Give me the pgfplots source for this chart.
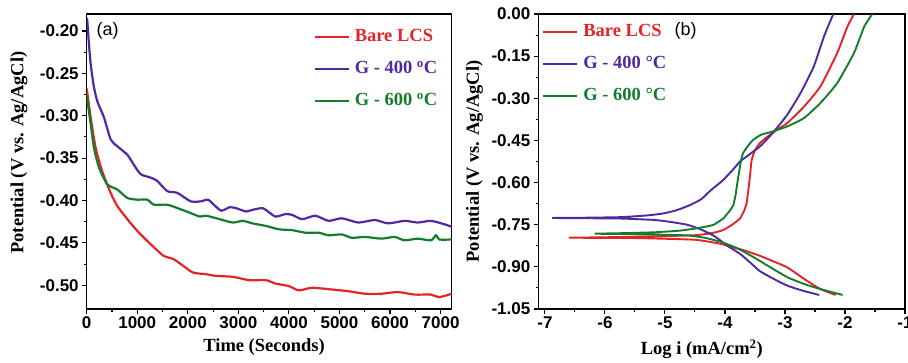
\documentclass[border=0pt]{standalone}
\usepackage{fontspec}
\setmainfont{Liberation Serif}
\setsansfont{Liberation Sans}
\usepackage{pgfplots}
\pgfplotsset{compat=1.18}
\definecolor{cred}{RGB}{230,35,40}
\definecolor{cblue}{RGB}{80,40,160}
\definecolor{cgreen}{RGB}{20,125,45}

\pgfplotstableread{
t E
0 -0.268
12 -0.273
79 -0.302
177 -0.338
309 -0.366
474 -0.391
600 -0.406
750 -0.418
900 -0.429
1050 -0.439
1255 -0.451
1516 -0.465
1712 -0.469
1908 -0.477
2105 -0.485
2366 -0.487
2562 -0.489
2889 -0.490
3216 -0.494
3542 -0.494
3739 -0.498
4000 -0.501
4196 -0.506
4458 -0.503
4850 -0.505
5176 -0.507
5503 -0.510
5830 -0.510
6157 -0.508
6484 -0.511
6810 -0.511
6974 -0.514
7220 -0.510
}\ocpred

\pgfplotstableread{
t E
0 -0.185
12 -0.188
40 -0.212
79 -0.239
140 -0.265
210 -0.283
342 -0.302
474 -0.328
605 -0.336
803 -0.346
935 -0.358
1068 -0.369
1266 -0.373
1397 -0.377
1594 -0.389
1792 -0.391
2056 -0.401
2254 -0.401
2400 -0.399
2497 -0.404
2660 -0.412
2824 -0.408
2954 -0.409
3150 -0.413
3281 -0.411
3477 -0.409
3608 -0.414
3739 -0.419
3935 -0.416
4065 -0.417
4261 -0.422
4523 -0.418
4784 -0.424
5046 -0.421
5373 -0.426
5699 -0.423
5961 -0.427
6288 -0.424
6549 -0.426
6810 -0.424
7072 -0.428
7220 -0.431
}\ocpblue

\pgfplotstableread{
t E
0 -0.276
12 -0.281
79 -0.310
144 -0.338
243 -0.361
408 -0.381
605 -0.387
803 -0.397
1000 -0.399
1198 -0.399
1331 -0.405
1594 -0.405
1843 -0.410
2105 -0.416
2235 -0.419
2366 -0.418
2627 -0.422
2889 -0.426
3085 -0.424
3281 -0.427
3542 -0.430
3804 -0.434
4065 -0.435
4327 -0.438
4588 -0.438
4784 -0.441
5046 -0.440
5242 -0.444
5503 -0.443
5830 -0.445
6092 -0.443
6288 -0.447
6549 -0.445
6810 -0.447
6908 -0.441
6974 -0.446
7220 -0.446
}\ocpgreen

\pgfplotstableread{
x E
-2.155 -1.000
-2.41 -0.979
-2.68 -0.943
-2.96 -0.902
-3.22 -0.878
-3.45 -0.858
-3.70 -0.840
-3.92 -0.828
-4.07 -0.818
-4.47 -0.804
-5.00 -0.800
-5.58 -0.797
-6.10 -0.797
-6.60 -0.796
-6.10 -0.795
-5.58 -0.793
-4.90 -0.790
-4.47 -0.787
-4.20 -0.779
-4.03 -0.769
-3.88 -0.750
-3.75 -0.728
-3.68 -0.700
-3.64 -0.674
-3.61 -0.626
-3.59 -0.591
-3.555 -0.520
-3.50 -0.485
-3.42 -0.460
-3.30 -0.438
-3.14 -0.413
-2.96 -0.388
-2.68 -0.329
-2.41 -0.258
-2.13 -0.139
-1.96 -0.045
-1.85 0.000
}\tafred

\pgfplotstableread{
x E
-2.43 -1.000
-2.70 -0.985
-2.96 -0.967
-3.24 -0.937
-3.42 -0.915
-3.52 -0.896
-3.74 -0.855
-3.96 -0.825
-4.18 -0.790
-4.41 -0.766
-4.63 -0.750
-4.91 -0.740
-5.18 -0.733
-5.74 -0.728
-6.30 -0.727
-6.88 -0.726
-6.30 -0.725
-5.74 -0.723
-5.30 -0.717
-5.03 -0.710
-4.80 -0.698
-4.58 -0.680
-4.40 -0.660
-4.25 -0.630
-4.03 -0.591
-3.85 -0.550
-3.75 -0.525
-3.63 -0.506
-3.41 -0.470
-3.19 -0.420
-2.96 -0.358
-2.74 -0.281
-2.52 -0.187
-2.35 -0.080
-2.195 0.000
}\tafblue

\pgfplotstableread{
x E
-2.04 -1.000
-2.41 -0.979
-2.68 -0.961
-2.96 -0.937
-3.24 -0.902
-3.52 -0.866
-3.79 -0.834
-4.07 -0.811
-4.35 -0.796
-4.63 -0.788
-5.18 -0.785
-5.70 -0.783
-6.17 -0.782
-5.70 -0.780
-5.18 -0.777
-4.75 -0.771
-4.45 -0.762
-4.20 -0.751
-4.03 -0.728
-3.92 -0.700
-3.86 -0.680
-3.82 -0.640
-3.80 -0.610
-3.77 -0.570
-3.74 -0.530
-3.70 -0.496
-3.60 -0.465
-3.53 -0.448
-3.40 -0.430
-3.22 -0.419
-2.96 -0.400
-2.68 -0.370
-2.41 -0.317
-2.13 -0.246
-1.85 -0.139
-1.68 -0.045
-1.545 0.000
}\tafgreen

\pgfplotsset{
  myax/.style={
    scale only axis, height=295pt,
    axis line style={line width=1.3pt},
    every tick/.style={black, line width=1.1pt},
    tick align=outside, major tick length=4.5pt, minor tick length=2.5pt,
    xtick pos=bottom, ytick pos=left,
    /pgf/number format/assume math mode=true,
    ticklabel style={font=\sffamily\bfseries\fontsize{17}{20}\selectfont},
    label style={font=\bfseries\fontsize{18.5}{22}\selectfont},
    legend style={draw=none, fill=none, font=\bfseries\fontsize{18.5}{22}\selectfont,
      inner sep=0pt, row sep=15pt, column sep=5pt,
      nodes={inner sep=0pt, text height=13pt, text depth=4pt}},
    legend cell align=left,
    legend image code/.code={\draw[##1, line width=2.2pt] (0pt,0pt) -- (34pt,0pt);},
  }
}

\begin{document}
\begin{tikzpicture}
\path[use as bounding box] (0pt,0pt) rectangle (908pt,-362pt);

\begin{axis}[myax, width=365pt,
  at={(86.7pt,-309pt)}, anchor=south west,
  xmin=0, xmax=7220, ymin=-0.528, ymax=-0.18,
  xtick={0,1000,2000,3000,4000,5000,6000,7000}, minor x tick num=1,
  ytick={-0.50,-0.45,-0.40,-0.35,-0.30,-0.25,-0.20}, minor y tick num=1,
  xticklabel style={/pgf/number format/1000 sep={}},
  yticklabel style={/pgf/number format/.cd, fixed, fixed zerofill, precision=2},
  xlabel={Time (Seconds)}, ylabel={Potential (V vs. Ag/AgCl)},
  xlabel style={at={(axis description cs:0.486,-0.129)}, anchor=center},
  ylabel style={at={(axis description cs:-0.1855,0.53)}, anchor=center},
  legend style={at={(axis description cs:0.621,0.951)}, anchor=north west},
]
\addplot[cred, line width=2.2pt, smooth, tension=0.4] table[x=t, y=E] {\ocpred};
\addlegendentry{\textcolor{cred}{Bare LCS}}
\addplot[cblue, line width=2.2pt, smooth, tension=0.4] table[x=t, y=E] {\ocpblue};
\addlegendentry{\textcolor{cblue}{G - 400 \textsuperscript{o}C}}
\addplot[cgreen, line width=2.2pt, smooth, tension=0.4] table[x=t, y=E] {\ocpgreen};
\addlegendentry{\textcolor{cgreen}{G - 600 \textsuperscript{o}C}}
\node[font=\sffamily\fontsize{18}{20}\selectfont, anchor=center] at (axis description cs:0.057,0.943) {(a)};
\end{axis}

\begin{axis}[myax, width=366.7pt,
  at={(538.3pt,-309pt)}, anchor=south west,
  xmin=-7.11, xmax=-1, ymin=-1.05, ymax=0,
  xtick={-7,-6,-5,-4,-3,-2,-1}, minor x tick num=1,
  ytick={-1.05,-0.90,-0.75,-0.60,-0.45,-0.30,-0.15,0}, minor y tick num=1,
  yticklabel style={/pgf/number format/.cd, fixed, fixed zerofill, precision=2},
  xlabel={Log i (mA/cm\textsuperscript{2})}, ylabel={Potential (V vs. Ag/AgCl)},
  xlabel style={at={(axis description cs:0.446,-0.136)}, anchor=center},
  ylabel style={at={(axis description cs:-0.174,0.5)}, anchor=center},
  legend style={at={(axis description cs:0.01,0.968)}, anchor=north west},
]
\addplot[cred, line width=1.9pt, smooth, tension=0.3] table[x=x, y=E] {\tafred};
\addlegendentry{\textcolor{cred}{Bare LCS}}
\addplot[cblue, line width=1.9pt, smooth, tension=0.3] table[x=x, y=E] {\tafblue};
\addlegendentry{\textcolor{cblue}{G - 400 °C}}
\addplot[cgreen, line width=1.9pt, smooth, tension=0.3] table[x=x, y=E] {\tafgreen};
\addlegendentry{\textcolor{cgreen}{G - 600 °C}}
\node[font=\sffamily\fontsize{18}{20}\selectfont, anchor=center] at (axis description cs:0.402,0.942) {(b)};
\end{axis}
\end{tikzpicture}
\end{document}
